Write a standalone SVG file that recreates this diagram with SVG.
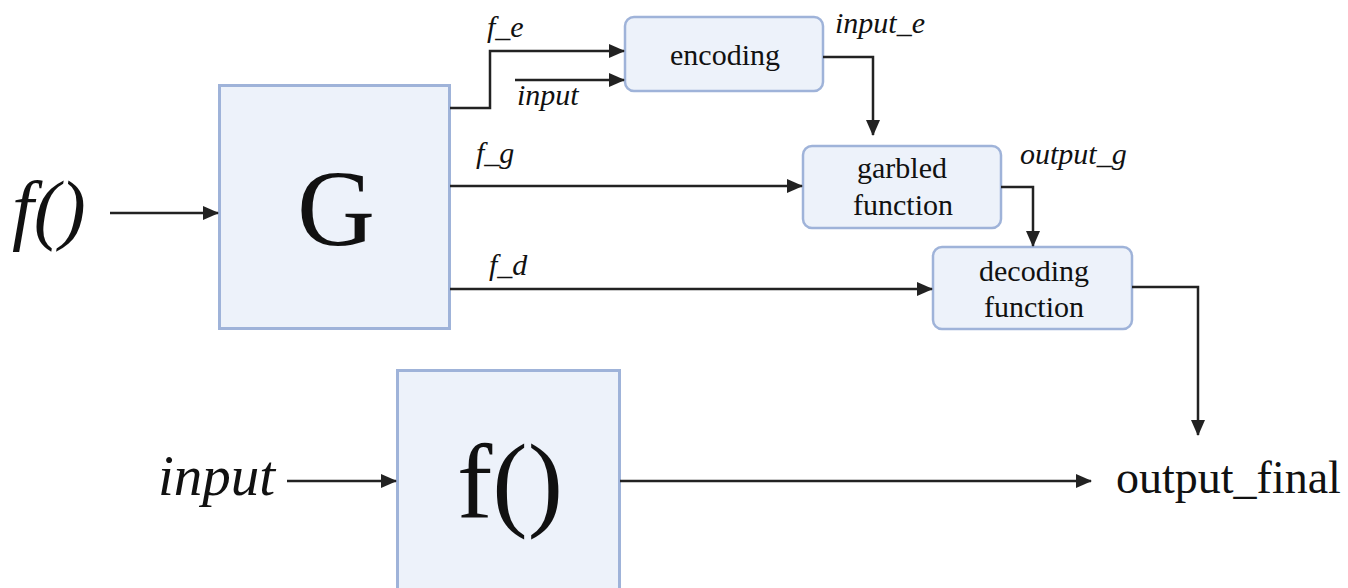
<svg xmlns="http://www.w3.org/2000/svg" width="1348" height="588" viewBox="0 0 1348 588">
<style>
.box{fill:#edf2fa;stroke:#9fb3d9;stroke-width:3}
.sbox{fill:#edf2fa;stroke:#9fb3d9;stroke-width:2.5}
.c{fill:none;stroke:#222;stroke-width:2.5}
.t{font-family:"Liberation Serif",serif;fill:#111}
.i{font-family:"Liberation Serif",serif;font-style:italic;fill:#111}
</style>
<defs>
<marker id="ah" markerUnits="userSpaceOnUse" markerWidth="16" markerHeight="14" refX="15" refY="7" orient="auto">
<path d="M0,0 L16,7 L0,14 z" fill="#222"/>
</marker>
</defs>
<rect width="1348" height="588" fill="#fff"/>
<g id="G">
<rect class="box" x="219.5" y="85.5" width="230" height="243"/>
<text class="t" x="336" y="245" font-size="108" text-anchor="middle">G</text>
</g>
<g id="encoding">
<rect class="sbox" x="625" y="17" width="198" height="74" rx="9"/>
<text class="t" x="725" y="65" font-size="30" text-anchor="middle">encoding</text>
</g>
<g id="garbled">
<rect class="sbox" x="803" y="146" width="198" height="82" rx="9"/>
<text class="t" x="902" y="178" font-size="30" text-anchor="middle">garbled</text>
<text class="t" x="903" y="215" font-size="30" text-anchor="middle">function</text>
</g>
<g id="decoding">
<rect class="sbox" x="933" y="247" width="199" height="82" rx="9"/>
<text class="t" x="1034" y="281" font-size="30" text-anchor="middle">decoding</text>
<text class="t" x="1034" y="317" font-size="30" text-anchor="middle">function</text>
</g>
<g id="fbox">
<rect class="box" x="397.5" y="370.5" width="222" height="230"/>
<text class="t" x="510" y="517" font-size="106" text-anchor="middle">f()</text>
</g>
<g id="labels">
<text class="i" x="12" y="235" font-size="78">f()</text>
<text class="i" x="158" y="495" font-size="57">input</text>
<text class="t" x="1116" y="493" font-size="46">output_final</text>
<text class="i" x="487" y="37" font-size="30">f_e</text>
<text class="i" x="517" y="105" font-size="30">input</text>
<text class="i" x="835" y="33" font-size="30">input_e</text>
<text class="i" x="476" y="163" font-size="30">f_g</text>
<text class="i" x="1020" y="164" font-size="30">output_g</text>
<text class="i" x="489" y="275" font-size="30">f_d</text>
</g>
<g id="connectors">
<path class="c" d="M110,213 H218" marker-end="url(#ah)"/>
<path class="c" d="M450,108 H490 V51 H624" marker-end="url(#ah)"/>
<path class="c" d="M515,80 H624" marker-end="url(#ah)"/>
<path class="c" d="M823,57 H873 V135" marker-end="url(#ah)"/>
<path class="c" d="M450,186 H802" marker-end="url(#ah)"/>
<path class="c" d="M1001,187 H1033 V246" marker-end="url(#ah)"/>
<path class="c" d="M450,289 H932" marker-end="url(#ah)"/>
<path class="c" d="M1132,287 H1198 V435" marker-end="url(#ah)"/>
<path class="c" d="M287,481 H396" marker-end="url(#ah)"/>
<path class="c" d="M620,481 H1091" marker-end="url(#ah)"/>
</g>
</svg>
